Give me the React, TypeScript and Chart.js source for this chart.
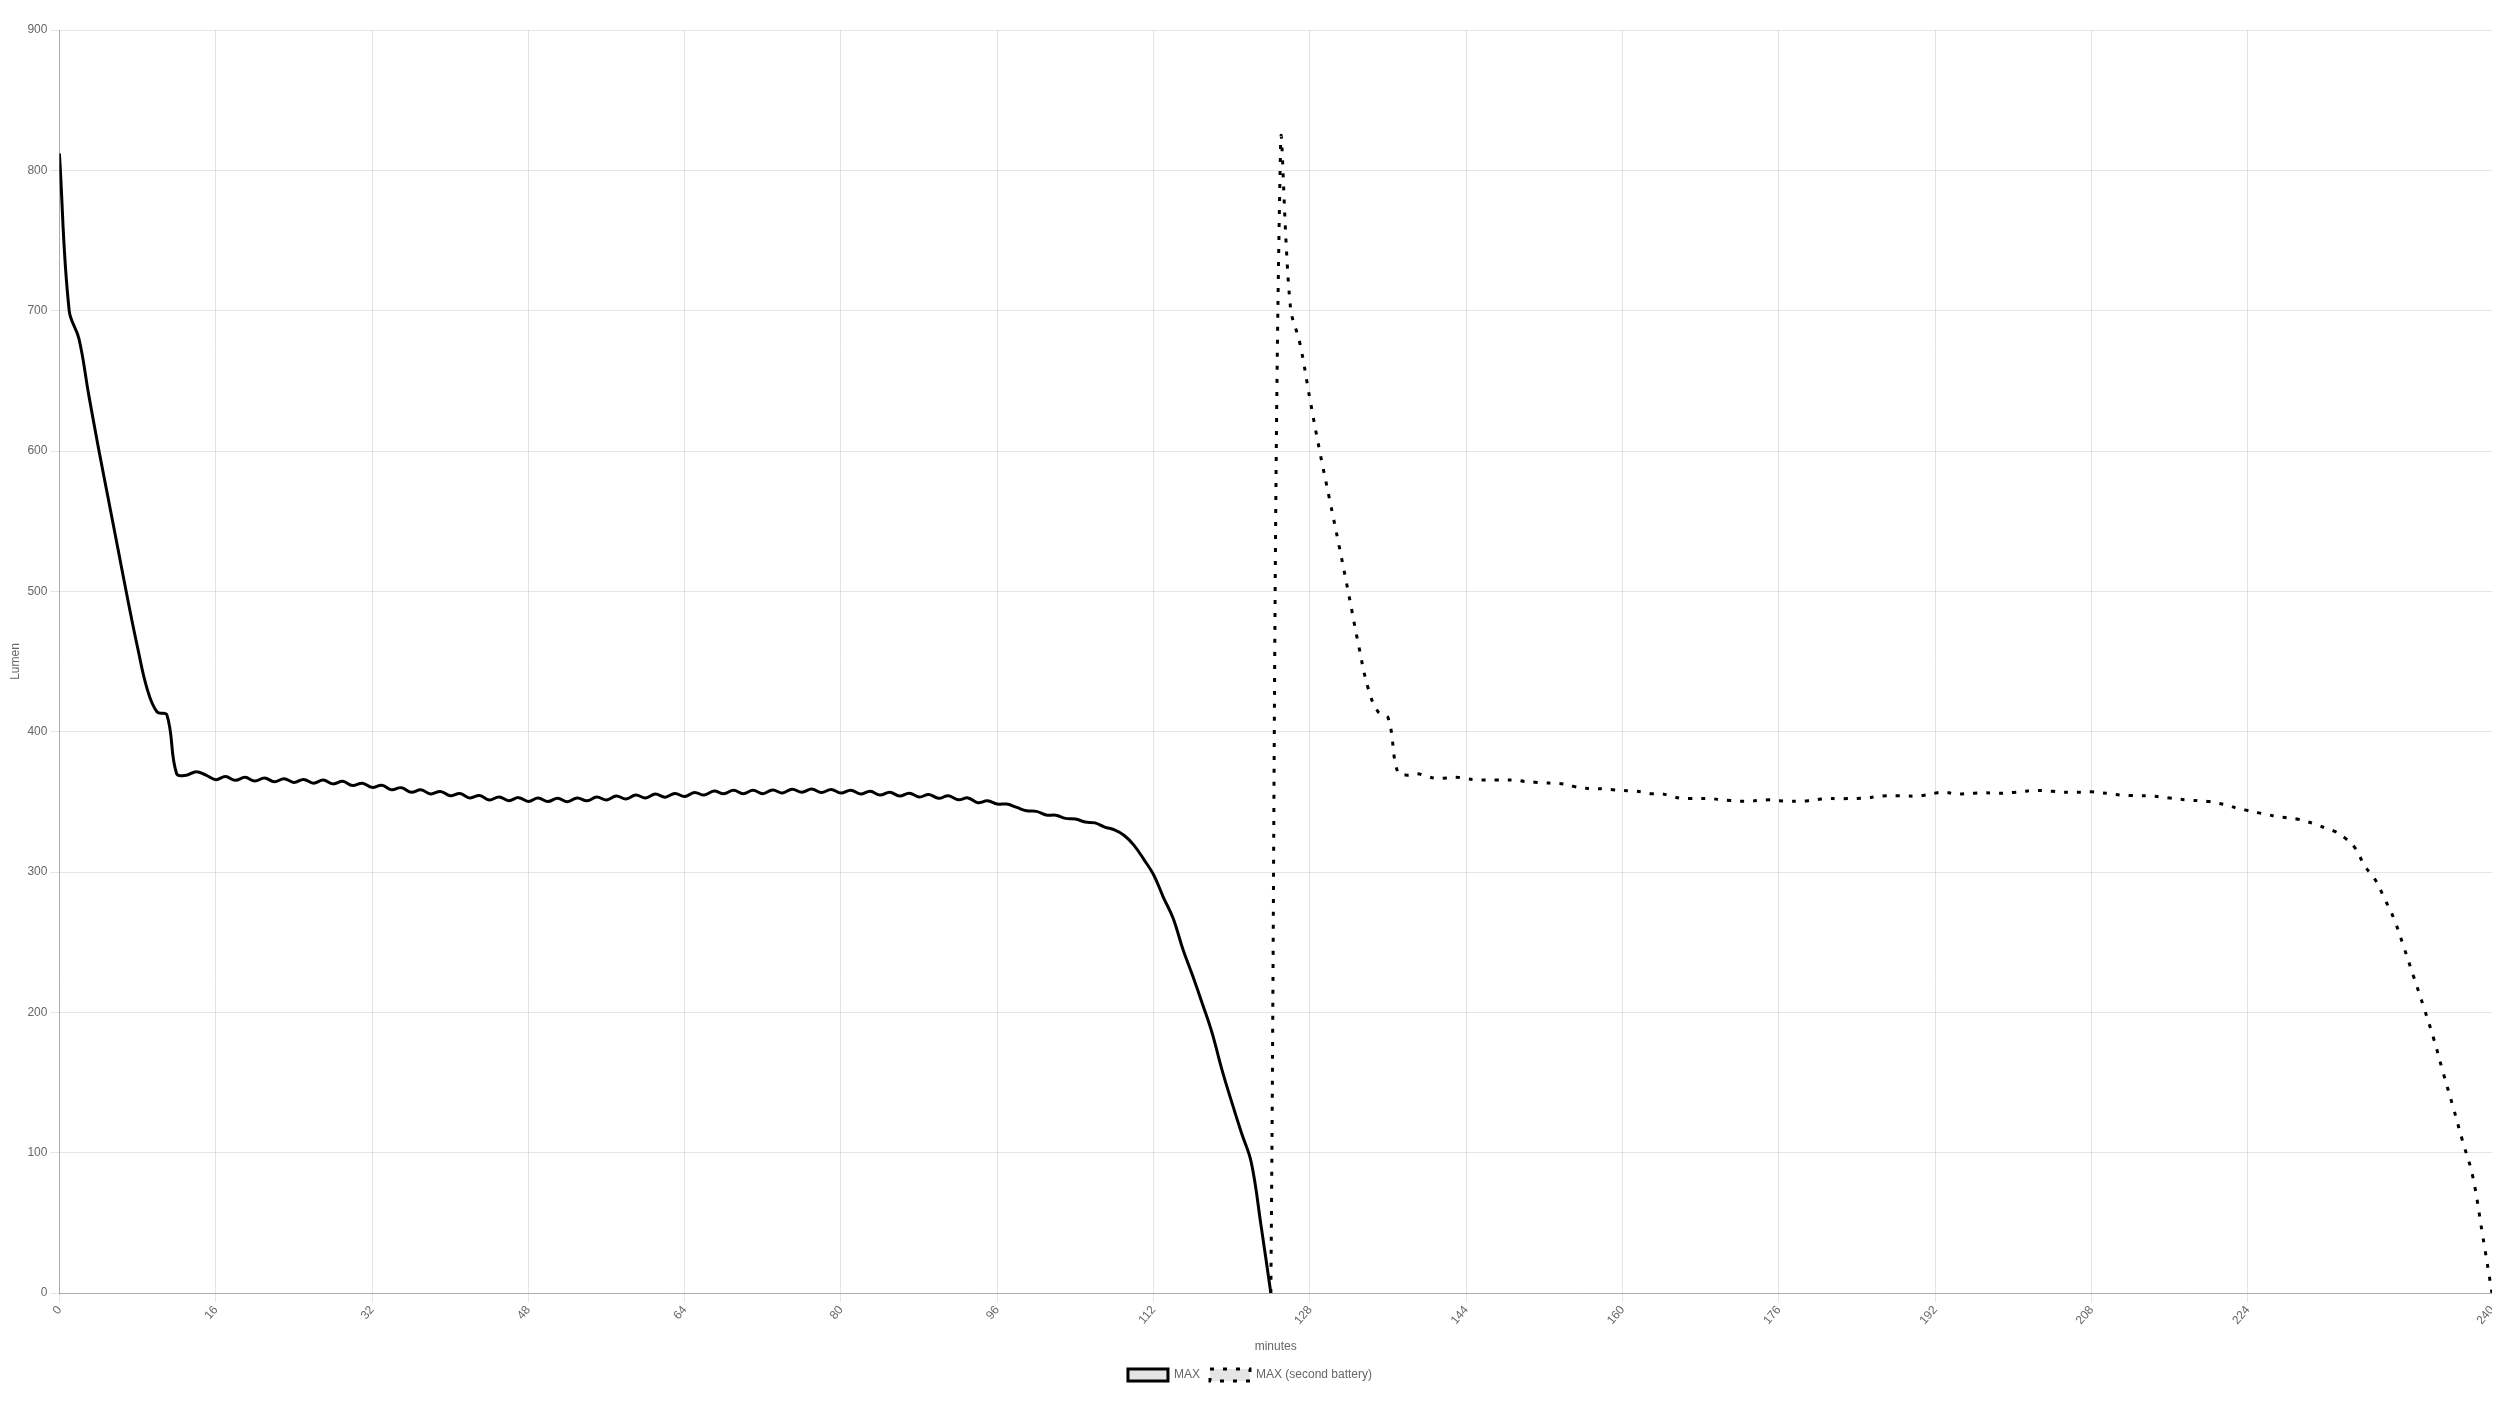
import React, { useEffect, useRef } from "react";
import { Chart, registerables } from "chart.js";

Chart.register(...registerables);

// Sample index positions of the x-axis ticks and the labels printed at them (minutes)
const TICK_INDEX = [0, 16, 32, 48, 64, 80, 96, 112, 128, 144, 160, 176, 192, 208, 224, 249];
const TICK_LABELS = ["0", "16", "32", "48", "64", "80", "96", "112", "128", "144", "160", "176", "192", "208", "224", "240"];

const Y_TICKS_MAX = 900;
const SERIES_NAMES = ["MAX", "MAX (second battery)"];

// First battery, samples 0..124 (lumen)
const MAX_FIRST = [
  812, 700, 680, 640, 602, 566, 530, 494, 460, 430,
  414, 412, 370, 369, 371.5, 369, 365.8, 368.0, 365.3, 367.5,
  364.8, 367.0, 364.3, 366.5, 363.8, 366.0, 363.3, 365.5, 362.8, 364.6,
  361.6, 363.3, 360.3, 361.8, 358.6, 360.1, 356.8, 358.6, 355.6, 357.4,
  354.4, 356.0, 352.8, 354.5, 351.3, 353.5, 350.8, 353.0, 350.3, 352.7,
  350.2, 352.6, 350.1, 352.8, 350.7, 353.4, 351.3, 354.1, 352.1, 354.8,
  352.8, 355.5, 353.3, 356.0, 353.8, 356.7, 354.8, 357.7, 355.8, 358.2,
  355.8, 358.2, 355.8, 358.5, 356.3, 359.0, 356.8, 359.1, 356.6, 358.8,
  356.3, 358.3, 355.6, 357.6, 354.8, 356.9, 354.1, 356.2, 353.4, 355.3,
  352.5, 354.4, 351.5, 352.8, 349.4, 350.7, 348.4, 348.4, 346, 343.6,
  343.2, 340.6, 340.4, 338.2, 337.8, 335.6, 335, 332, 330, 326,
  319, 309, 298, 282, 267, 245, 226, 206, 185, 159,
  136, 114, 93, 48, 0,
];

// Second battery starts at sample 124 (lumen)
const SECOND_START = 124;
const MAX_SECOND = [
  0, 818, 703, 676, 637, 600, 566, 532, 497, 461,
  430, 414, 410, 371, 369, 370, 368, 366.7, 367, 367.5,
  366.5, 365.8, 365.5, 365.5, 365.5, 365.5, 364.5, 364, 363.5, 363.2,
  362.7, 361, 359.8, 359.5, 359.2, 358.6, 358.1, 357.8, 357, 355.8,
  355.7, 354, 352.5, 352.4, 352.4, 352.4, 351.5, 351, 350.5, 350.5,
  351, 351.4, 350.8, 350.5, 350.5, 350.8, 351.7, 352.4, 352.2, 352.3,
  352.4, 352.8, 353.7, 354.3, 354.3, 354.2, 354, 354.8, 356.2, 356.9,
  355.6, 355.7, 356.2, 356.4, 356.3, 356.2, 356.7, 357.4, 358, 358,
  357.5, 356.9, 356.8, 356.9, 357.1, 356.5, 355.7, 354.8, 354.5, 354.3,
  354.3, 353.6, 352.8, 351.9, 351.2, 350.8, 350.2, 349, 347.5, 345.2,
  343.8, 342.3, 340.9, 339.5, 338.7, 337.8, 336, 333.8, 331.2, 328.6,
  324, 317, 304, 295, 281, 266, 246, 225, 204, 182,
  157, 133, 108, 84, 43, 0,
];

export default function App() {
  const canvasRef = useRef<HTMLCanvasElement | null>(null);

  useEffect(() => {
    const canvas = canvasRef.current;
    if (!canvas) return;
    const font = { family: "'Helvetica Neue', Helvetica, Arial, 'Liberation Sans', sans-serif", size: 12 };
    const chart = new Chart(canvas, {
      type: "line",
      data: {
        datasets: [
          {
            label: SERIES_NAMES[0],
            data: MAX_FIRST.map((y, i) => ({ x: i, y })),
            borderColor: "#000",
            backgroundColor: "rgba(0,0,0,0.1)",
            borderWidth: 3,
            pointRadius: 0,
            tension: 0.4,
            fill: false,
          },
          {
            label: SERIES_NAMES[1],
            data: MAX_SECOND.map((y, i) => ({ x: i + SECOND_START, y })),
            borderColor: "#000",
            backgroundColor: "rgba(0,0,0,0.1)",
            borderWidth: 3,
            borderDash: [4, 9],
            pointRadius: 0,
            tension: 0.4,
            fill: false,
          },
        ],
      },
      options: {
        animation: false,
        responsive: true,
        maintainAspectRatio: false,
        layout: { padding: { top: 22, bottom: 7, left: 0, right: 0 } },
        plugins: {
          legend: {
            position: "bottom",
            labels: { boxWidth: 40, boxHeight: 12, color: "#666", font },
          },
          tooltip: { enabled: false },
        },
        scales: {
          x: {
            type: "linear",
            min: TICK_INDEX[0],
            max: TICK_INDEX[TICK_INDEX.length - 1],
            afterBuildTicks: (axis: any) => {
              axis.ticks = TICK_INDEX.map((v) => ({ value: v }));
            },
            afterFit: (axis: any) => {
              axis.paddingRight = 0;
            },
            ticks: {
              autoSkip: false,
              minRotation: 50,
              maxRotation: 50,
              color: "#666",
              font,
              padding: 1,
              callback: (value: any) => {
                const k = TICK_INDEX.indexOf(Number(value));
                return k >= 0 ? TICK_LABELS[k] : "";
              },
            },
            grid: {
              color: "rgba(0,0,0,0.1)",
              tickLength: 9,
            },
            border: { color: "rgba(0,0,0,0.25)" },
            title: { display: true, text: "minutes", color: "#666", font, padding: { top: 11, bottom: 5 } },
          },
          y: {
            min: 0,
            max: Y_TICKS_MAX,
            ticks: { stepSize: 100, color: "#666", font, padding: 3 },
            grid: { color: "rgba(0,0,0,0.1)", tickLength: 9 },
            border: { color: "rgba(0,0,0,0.25)" },
            title: { display: true, text: "Lumen", color: "#666", font, padding: { top: 0, bottom: 2 } },
          },
        },
      },
    });
    return () => chart.destroy();
  }, []);

  return (
    <div style={{ position: "relative", width: "100%", height: 1390 }}>
      <canvas ref={canvasRef} />
    </div>
  );
}
